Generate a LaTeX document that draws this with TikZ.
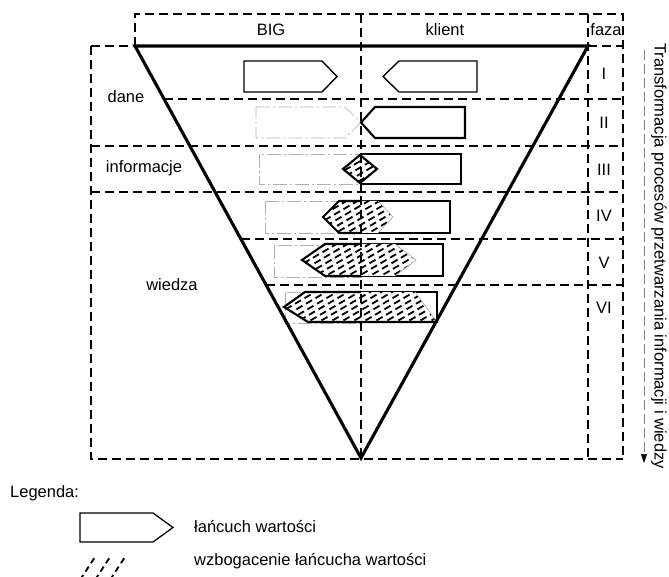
\documentclass[tikz,border=0pt]{standalone}
\usepackage{fontspec}
\setmainfont{Liberation Sans}
\usetikzlibrary{arrows.meta}

% hatched "enrichment" area: #1 outline, #2 left x, #3 bottom y, #4 number of strokes
\newcommand\hatchedarea[4]{%
  \fill[white] #1;
  \begin{scope}
    \clip #1;
    \foreach \k in {0,...,#4}
      \draw[hatch] ({#2-60+\k*11},{#3+4}) -- ++(70,-41);
  \end{scope}}

\begin{document}
\begin{tikzpicture}[x=1pt,y=-1pt,
  grid/.style={line width=2.1pt, dash pattern=on 9pt off 5pt},
  edge/.style={line width=3.1pt, line join=miter},
  chain/.style={line width=1.4pt, line join=miter},
  chainbold/.style={line width=2.1pt, line join=miter},
  faded/.style={line width=0.6pt, gray!60, dash pattern=on 14pt off 3pt on 2pt off 3pt},
  hatch/.style={line width=1.8pt, dash pattern=on 7pt off 4pt},
  rim/.style={line width=0.6pt, gray!70},
  lbl/.style={font=\fontsize{16.5}{19}\selectfont, inner sep=0pt},
]
\useasboundingbox (0,0) rectangle (669,577);

% ---------- frame coordinates ----------
\coordinate (TL) at (135,46);
\coordinate (TR) at (588,46);
\coordinate (BOT) at (361,458);

% ---------- dashed grid ----------
\draw[grid] (135,46) -- (135,14) -- (623,14) -- (623,459);
\draw[grid] (91,46) -- (135,46);
\draw[grid] (91,46) -- (91,459) -- (623,459);
\draw[grid] (588,14) -- (588,459);
\draw[grid] (588,46) -- (623,46);
\draw[grid] (164,99) -- (623,99);
\draw[grid] (91,146) -- (623,146);
\draw[grid] (91,192) -- (623,192);
\draw[grid] (241,239) -- (623,239);
\draw[grid] (266,285) -- (623,285);

% ---------- header and row labels ----------
\node[lbl] (big) at (271,30) {BIG};
\node[lbl] (klient) at (445,30) {klient};
\node[lbl] (faza) at (606,30) {faza};
\node[lbl] (dane) at (126,97) {dane};
\node[lbl] (info) at (144,168) {informacje};
\node[lbl] (wiedza) at (172,285) {wiedza};
\node[lbl] (f1) at (604,74) {I};
\node[lbl] (f2) at (604,123) {II};
\node[lbl] (f3) at (604,170) {III};
\node[lbl] (f4) at (604,216) {IV};
\node[lbl] (f5) at (604,263) {V};
\node[lbl] (f6) at (604,308) {VI};

% ---------- phase I ----------
\draw[chain] (244,61) -- (322,61) -- (337,76.5) -- (322,92) -- (244,92) -- cycle;
\draw[chain] (477,61) -- (399,61) -- (383,76.5) -- (399,92) -- (477,92) -- cycle;

% ---------- phase II ----------
\draw[faded] (256,107) -- (345,107) -- (361,122.5) -- (345,138) -- (256,138) -- cycle;
\draw[chainbold] (361,122.5) -- (375,107) -- (465,107) -- (465,138) -- (375,138) -- cycle;

% ---------- phase III ----------
\draw[faded] (259,154) rectangle (361,184);
\draw[chainbold] (361,154) rectangle (461,184);
\hatchedarea{(343,169) -- (360,155) -- (377,169) -- (360,183) -- cycle}{343}{183}{8}
\draw[chainbold] (343,169) -- (360,155) -- (377,169) -- (360,183) -- cycle;

% ---------- phase IV ----------
\draw[faded] (265,201) rectangle (361,233);
\draw[chainbold] (361,201) rectangle (450,233);
\hatchedarea{(323,217) -- (339,201) -- (378,201) -- (393,217) -- (378,233) -- (339,233) -- cycle}{323}{233}{13}
\draw[chainbold] (361,201) -- (339,201) -- (323,217) -- (339,233) -- (361,233);
\draw[rim] (378,201) -- (393,217) -- (378,233);

% ---------- phase V ----------
\draw[faded] (274,245) rectangle (361,277);
\draw[chainbold] (361,244) rectangle (443,276);
\hatchedarea{(302,260) -- (325,244) -- (395,244) -- (416,260) -- (395,276) -- (325,276) -- cycle}{302}{276}{17}
\draw[chainbold] (361,244) -- (325,244) -- (302,260) -- (325,276) -- (361,276);
\draw[rim] (395,244) -- (416,260) -- (395,276);

% ---------- phase VI ----------
\draw[faded] (285,292) rectangle (361,323);
\draw[chainbold] (361,292) rectangle (437,322);
\hatchedarea{(284,307) -- (305,292) -- (415,292) -- (437,322) -- (308,322) -- cycle}{284}{322}{21}
\draw[chainbold] (361,292) -- (305,292) -- (284,307) -- (308,322) -- (437,322);
\draw[rim] (415,292) -- (437,322);

% ---------- middle divider and funnel ----------
\draw[grid] (361,14) -- (361,459);
\draw[edge] (TL) -- (TR) -- (BOT) -- cycle;

% ---------- direction of transformation ----------
\coordinate (arrTop) at (644,50);
\coordinate (arrEnd) at (644,463);
\draw[line width=0.6pt, gray, dash pattern=on 10pt off 4pt,
  -{Triangle[black,length=9pt,width=6pt]}] (arrTop) -- (arrEnd);
\node[lbl, rotate=-90] (proc) at (659,256)
  {Transformacja procesów przetwarzania informacji i wiedzy};

% ---------- legend ----------
\node[lbl, anchor=west] (leg) at (10,493) {Legenda:};
\draw[line width=1.3pt, line join=miter] (80,513) -- (153,513) -- (173,527.5) -- (153,542) -- (80,542) -- cycle;
\node[lbl, anchor=west] (legA) at (194,527) {łańcuch wartości};
\foreach \s in {0,15,30}
  \draw[hatch, dash pattern=on 6pt off 4pt] ({80+\s},580) -- ++(15,-23);
\node[lbl, anchor=west] (legB) at (194,561) {wzbogacenie łańcucha wartości};
\end{tikzpicture}
\end{document}
